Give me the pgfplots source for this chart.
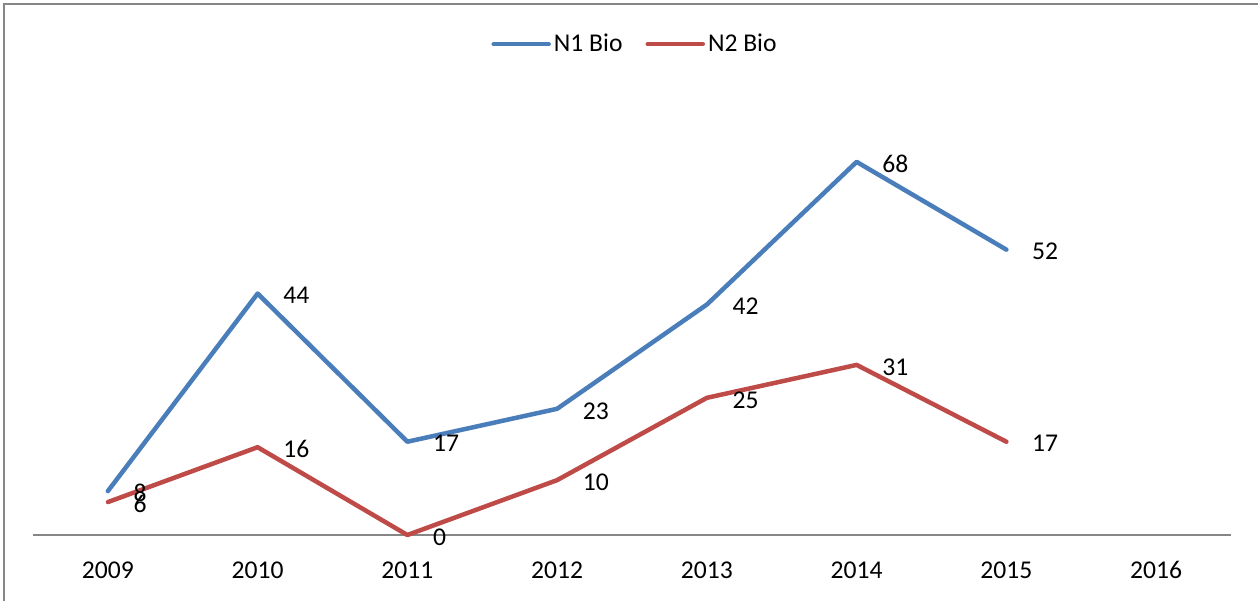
\documentclass[border=0pt]{standalone}
\usepackage{pgfplots}
\pgfplotsset{compat=1.18}
\usepackage{fontspec}
\setmainfont{Carlito}
\definecolor{bl}{HTML}{4A7EBB}
\definecolor{rd}{HTML}{BE4B48}
\definecolor{ax}{HTML}{868686}
\begin{document}
\fontsize{12.8}{15}\selectfont
\begin{tikzpicture}
\useasboundingbox (-16.5pt,-33pt) rectangle (612.5pt,267.5pt);
\draw[ax, line width=1pt] (-14.25pt,-33pt) -- (-14.25pt,265.5pt) -- (612.5pt,265.5pt);
\begin{axis}[
  at={(0,0)}, anchor=south west, scale only axis,
  width=599pt, height=219.5pt,
  xmin=-0.5, xmax=7.5, ymin=0, ymax=80,
  axis x line*=bottom, axis y line=none,
  x axis line style={ax, line width=0.75pt, -},
  xtick={0,...,7},
  xticklabels={2009,2010,2011,2012,2013,2014,2015,2016},
  major tick length=0pt,
  ytick=\empty,
  clip=false,
  /pgf/number format/assume math mode=true,
  xticklabel style={anchor=base, yshift=-21.75pt, text=black},
  nodes near coords,
  nodes near coords style={anchor=west, xshift=7.5pt, yshift=-1pt, text=black},
  legend columns=2,
  legend style={draw=none, fill=none, at={(0.5025,1.118)}, anchor=center,
    nodes={inner sep=1pt},
    /tikz/every odd column/.append style={column sep=0.5pt},
    /tikz/every even column/.append style={column sep=10.5pt}},
  legend image code/.code={\draw[#1, line width=2.25pt, line cap=round] (0pt,0pt) -- (27.5pt,0pt);},
]
\addplot[bl, line width=2.25pt, line join=round, line cap=round, mark=none]
  coordinates {(0,8)(1,44)(2,17)(3,23)(4,42)(5,68)(6,52)};
\addlegendentry{N1 Bio}
\addplot[rd, line width=2.25pt, line join=round, line cap=round, mark=none]
  coordinates {(0,6)(1,16)(2,0)(3,10)(4,25)(5,31)(6,17)};
\addlegendentry{N2 Bio}
\end{axis}
\end{tikzpicture}
\end{document}
